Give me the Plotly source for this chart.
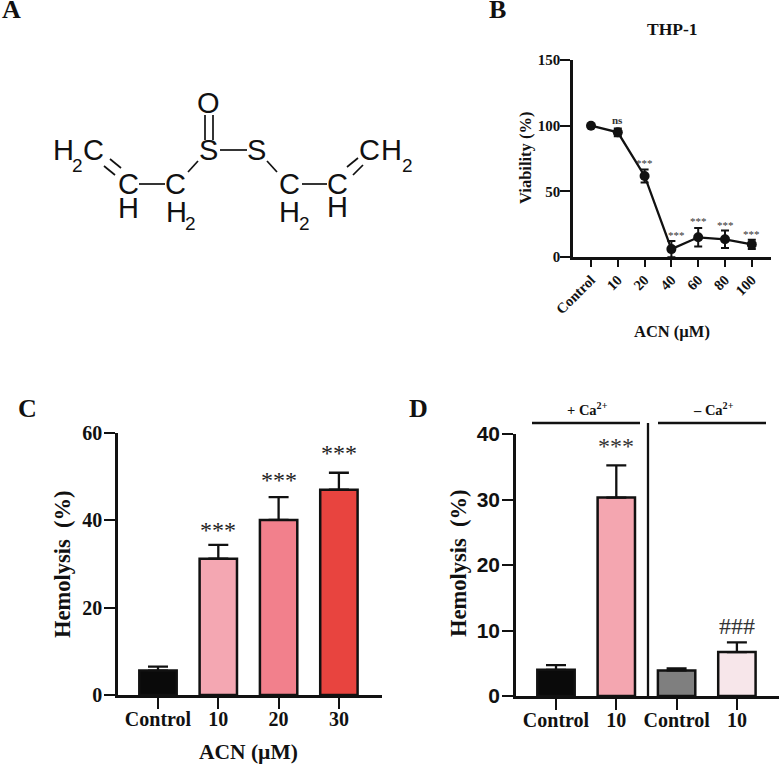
import plotly.graph_objects as go

W = 780
H = 765
SERIF = 'Liberation Serif'
SANS = 'Liberation Sans'

# panel B
b_labels = ['Control', '10', '20', '40', '60', '80', '100']
b_values = [100, 94.9, 61.7, 6, 15, 13.5, 9.6]
b_errors = [0.8, 3, 5, 6.2, 7, 6.7, 3.5]
b_sig = ['', '<b>ns</b>', '***', '***', '***', '***', '***']
b_sig_x = [0, 1, 2, 3.18, 4, 5, 6]
b_sig_y = [None, 104, 71.5, 17, 27.5, 24.5, 17.5]
b_ticks = [0, 50, 100, 150]

# panel C
c_labels = ['Control', '10', '20', '30']
c_values = [5.6, 31.2, 40.1, 47.0]
c_errors = [0.9, 3.2, 5.2, 3.9]
c_colors = ['#0a0a0a', '#f4a7b2', '#f2808c', '#e8443f']
c_sig = ['', '***', '***', '***']
c_sig_x = [0, 1, 2, 3]
c_sig_y = [None, 37.9, 49.2, 55.4]
c_ticks = [0, 20, 40, 60]

# panel D
d_labels = ['Control', '10', 'Control', '10']
d_values = [4.0, 30.3, 3.9, 6.7]
d_errors = [0.7, 4.9, 0.3, 1.5]
d_colors = ['#0a0a0a', '#f4a6b0', '#7f7f7f', '#f7e6ea']
d_sig = ['', '***', '', '###']
d_sig_x = [0, 1, 2, 3]
d_sig_y = [None, 38.1, None, 10.7]
d_ticks = [0, 10, 20, 30, 40]


def px(x):
    return x / W


def py(y):
    return 1 - y / H


def bold(items):
    return ['<b>' + str(t) + '</b>' for t in items]


annotations = []
shapes = []


def label(text, x, y, size, font=SERIF, heavy=True, angle=0, color='#111111'):
    if heavy:
        text = '<b>' + text + '</b>'
    annotations.append(dict(
        text=text, x=px(x), y=py(y), xref='paper', yref='paper',
        xanchor='center', yanchor='middle', showarrow=False,
        textangle=angle, font=dict(family=font, size=size, color=color),
    ))


def stroke(x0, y0, x1, y1, width=1.7, color='#111111'):
    shapes.append(dict(
        type='line', xref='paper', yref='paper',
        x0=px(x0), y0=py(y0), x1=px(x1), y1=py(y1),
        line=dict(color=color, width=width),
    ))


def sig_marks(marks, xs, ys, xref, yref, size, color):
    for i in range(len(marks)):
        if marks[i]:
            annotations.append(dict(
                text=marks[i], x=xs[i], y=ys[i], xref=xref, yref=yref,
                xanchor='center', yanchor='middle', showarrow=False,
                font=dict(family=SERIF, size=size, color=color),
            ))


def x_axis(left, right, first, step, labels, size, anchor, angle=0, ticklen=11, standoff=-7):
    return dict(
        domain=[px(left), px(right)], automargin=False,
        range=[(left - first) / step, (right - first) / step],
        tickmode='array', tickvals=list(range(len(labels))), ticktext=bold(labels),
        tickangle=angle, ticks='outside', ticklen=ticklen, tickwidth=2.3,
        ticklabelstandoff=standoff,
        tickcolor='#111111', showline=True, linecolor='#111111', linewidth=2.5,
        showgrid=False, zeroline=False, anchor=anchor,
        tickfont=dict(family=SERIF, size=size, color='#111111'),
    )


def y_axis(top, bottom, ticks, size, anchor, font=SERIF, ticklen=11, standoff=-2):
    return dict(
        domain=[py(bottom), py(top)], range=[ticks[0], ticks[-1]], automargin=False,
        tickmode='array', tickvals=ticks, ticktext=bold(ticks), ticks='outside',
        ticklen=ticklen, tickwidth=2.3, tickcolor='#111111', showline=True,
        ticklabelstandoff=standoff,
        linecolor='#111111', linewidth=2.5, showgrid=False, zeroline=False,
        anchor=anchor, tickfont=dict(family=font, size=size, color='#111111'),
    )


fig = go.Figure()

fig.add_trace(go.Scatter(
    x=list(range(len(b_values))), y=b_values, xaxis='x', yaxis='y',
    mode='lines+markers', cliponaxis=False,
    line=dict(color='#111111', width=2.3),
    marker=dict(color='#111111', size=10),
    error_y=dict(type='data', array=b_errors, color='#111111', thickness=2, width=4),
))

fig.add_trace(go.Bar(
    x=list(range(len(c_values))), y=c_values, xaxis='x2', yaxis='y2', width=0.62,
    marker=dict(color=c_colors, line=dict(color='#111111', width=2.5)),
    error_y=dict(type='data', symmetric=False, array=c_errors,
                 arrayminus=[0] * len(c_errors), color='#111111', thickness=2.3, width=10),
))

fig.add_trace(go.Bar(
    x=list(range(len(d_values))), y=d_values, xaxis='x3', yaxis='y3', width=0.62,
    marker=dict(color=d_colors, line=dict(color='#111111', width=2.5)),
    error_y=dict(type='data', symmetric=False, array=d_errors,
                 arrayminus=[0] * len(d_errors), color='#111111', thickness=2.3, width=10),
))

sig_marks(b_sig, b_sig_x, b_sig_y, 'x', 'y', 11, '#333333')
sig_marks(c_sig, c_sig_x, c_sig_y, 'x2', 'y2', 24, '#222222')
sig_marks(d_sig, d_sig_x, d_sig_y, 'x3', 'y3', 24, '#333333')

# panel letters
label('A', 11, 10, 26)
label('B', 498, 10, 26)
label('C', 28, 408, 26)
label('D', 418, 408, 26)

# panel B text
label('THP-1', 672, 29, 17.5)
label('Viability (%)', 526, 158, 16.5, angle=-90)
label('ACN (µM)', 672, 331, 16.5)

# panel C text
label('Hemolysis  (%)', 62, 564, 22.5, angle=-90)
label('ACN (µM)', 249, 752, 21.5)

# panel D text
label('Hemolysis  (%)', 458, 564, 22.5, angle=-90)
label('+ Ca<sup>2+</sup>', 587, 409, 14.5)
label('– Ca<sup>2+</sup>', 713, 409, 14.5)
stroke(532, 423, 640, 423, width=2.3)
stroke(658, 423, 766, 423, width=2.3)
stroke(648, 423, 648, 696, width=2.3)

# panel A structure
for text, x, y, size in [
    ('O', 208, 103, 29), ('S', 208, 150, 29), ('S', 256, 150, 29),
    ('C', 128, 184, 29), ('H', 128, 208, 29), ('C', 175, 184, 29),
    ('H', 176, 212, 29), ('2', 190, 223, 19), ('C', 289, 184, 29),
    ('H', 289, 212, 29), ('2', 304, 223, 19), ('C', 337, 184, 29),
    ('H', 337, 207, 29), ('H', 63, 150, 29), ('2', 77, 165, 19),
    ('C', 93, 150, 29), ('C', 369, 150, 29), ('H', 391, 150, 29),
    ('2', 407, 165, 19),
]:
    label(text, x, y, size, font=SANS, heavy=False)

for x0, y0, x1, y1 in [
    (205, 115, 205, 140), (213, 115, 213, 140),
    (220, 150, 247, 150),
    (188, 172, 198, 161), (267, 161, 277, 172),
    (139, 184, 165, 184), (302, 184, 327, 184),
    (110, 159, 121, 168), (104, 166, 115, 175),
    (347, 167, 358, 158), (353, 175, 363, 165),
]:
    stroke(x0, y0, x1, y1)

fig.update_layout(
    width=W, height=H, margin=dict(l=0, r=0, t=0, b=0),
    paper_bgcolor='white', plot_bgcolor='white', showlegend=False,
    annotations=annotations, shapes=shapes,
    xaxis=x_axis(573, 771, 591, 26.8, b_labels, 14.5, 'y', angle=-45, ticklen=7, standoff=-1),
    yaxis=y_axis(60, 257, b_ticks, 15, 'x', ticklen=10, standoff=-3),
    xaxis2=x_axis(118, 382, 158, 60.3, c_labels, 20, 'y2'),
    yaxis2=y_axis(433, 695, c_ticks, 20, 'x2'),
    xaxis3=x_axis(516, 779, 556, 60.3, d_labels, 20, 'y3'),
    yaxis3=y_axis(434, 696, d_ticks, 21, 'x3', font=SANS),
)

fig.write_html('out.html', config=dict(displayModeBar=False),
               post_script="document.body.style.margin='0';")
